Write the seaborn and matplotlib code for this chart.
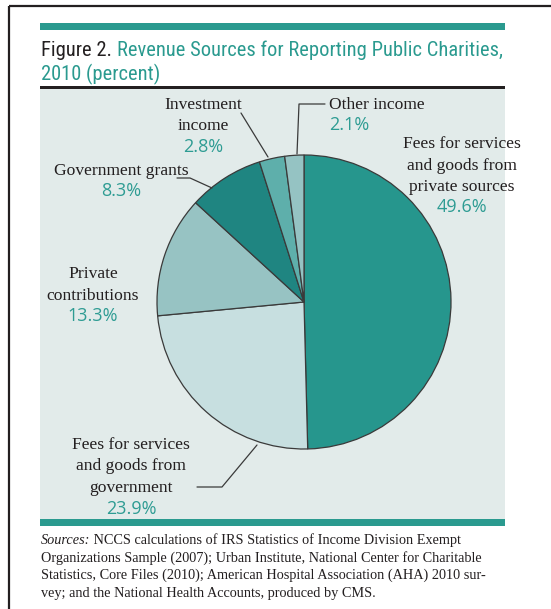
import matplotlib
matplotlib.use("Agg")
import matplotlib.pyplot as plt
from matplotlib import font_manager
import seaborn as sns

# Revenue sources for reporting public charities, 2010 (percent)
categories = [
    "Fees for services\nand goods from\nprivate sources",
    "Fees for services\nand goods from\ngovernment",
    "Private\ncontributions",
    "Government grants",
    "Investment\nincome",
    "Other income",
]
shares = [49.6, 23.9, 13.3, 8.3, 2.8, 2.1]

sns.set_theme(style="white")

names = {f.name for f in font_manager.fontManager.ttflist}
def pick(*fams):
    for f in fams:
        if f in names:
            return f
    return "DejaVu Sans"

TITLE_FONT = pick("Liberation Sans Narrow", "Roboto Condensed", "Liberation Sans")
SERIF_FONT = pick("Liberation Serif", "DejaVu Serif")
PCT_FONT = pick("Open Sans", "Noto Sans", "DejaVu Sans")

TEAL = "#2A9A8F"
PCT_TEAL = "#2E9C93"
INK = "#231F20"
PANEL = "#E2EBEA"
slice_colors = ["#26968D", "#C7DFE0", "#97C3C3", "#1F8581", "#5EAFAB", "#95C3C3"]

W, H = 551, 609
fig = plt.figure(figsize=(W / 100, H / 100), dpi=100)
fig.patch.set_facecolor("white")
ax = fig.add_axes([0, 0, 1, 1])

def Y(py):
    return H - py

# outer frame (top and left edges)
ax.plot([9, W], [Y(6), Y(6)], color=INK, lw=1.6, solid_capstyle="butt")
ax.plot([9, 9], [Y(6), Y(H)], color=INK, lw=1.6, solid_capstyle="butt")

# rules and panel
ax.add_patch(plt.Rectangle((40, Y(30)), 465, 7, color=TEAL, lw=0))
ax.add_patch(plt.Rectangle((40, Y(519)), 465, 431, color=PANEL, lw=0))
ax.add_patch(plt.Rectangle((40, Y(89)), 465, 3, color=INK, lw=0))
ax.add_patch(plt.Rectangle((40, Y(526)), 465, 7, color=TEAL, lw=0))

# title
TSIZE = 14.8
t1 = ax.text(41, Y(56), "Figure 2. ", color=INK, fontsize=TSIZE,
             family=TITLE_FONT, ha="left", va="baseline")
ax.annotate("Revenue Sources for Reporting Public Charities,", xy=(1, 0),
            xycoords=t1, color=TEAL, fontsize=TSIZE, family=TITLE_FONT,
            ha="left", va="bottom")
ax.text(41, Y(80), "2010 (percent)", color=TEAL, fontsize=TSIZE,
        family=TITLE_FONT, ha="left", va="baseline")

# pie
ax.pie(shares, colors=slice_colors, startangle=90, counterclock=False,
       center=(304, Y(302)), radius=147, frame=True,
       wedgeprops=dict(edgecolor="#3A3A3A", linewidth=0.9))

# category labels with their percentages
LSIZE = 12.6
PSIZE = 13
label_spots = [
    (462, 148),   # fees private
    (131, 449),   # fees government
    (93, 278),    # private contributions
    (121, 175),   # government grants
    (203, 109),   # investment income
    (None, None), # other income (left aligned below)
]
LINE = 21.5
for cat, val, (cx, cy) in zip(categories, shares, label_spots):
    if cx is None:
        continue
    lines = cat.split("\n")
    for i, ln in enumerate(lines):
        ax.text(cx, Y(cy + i * LINE), ln, fontsize=LSIZE, family=SERIF_FONT,
                color=INK, ha="center", va="baseline")
    ax.text(cx, Y(cy + len(lines) * LINE), f"{val}%", fontsize=PSIZE,
            family=PCT_FONT, color=PCT_TEAL, ha="center", va="baseline")

ax.text(329, Y(109), categories[5], fontsize=LSIZE, family=SERIF_FONT,
        color=INK, ha="left", va="baseline")
ax.text(329, Y(130), f"{shares[5]}%", fontsize=PSIZE, family=PCT_FONT,
        color=PCT_TEAL, ha="left", va="baseline")

# leader lines
leaders = [
    [(325, 104), (299, 104), (297, 154)],
    [(241, 113), (268, 157)],
    [(177, 178), (190, 178), (212, 188)],
    [(197, 487), (222, 487), (257, 445)],
]
for pts in leaders:
    xs = [p[0] for p in pts]
    ys = [Y(p[1]) for p in pts]
    ax.plot(xs, ys, color="#3A3A3A", lw=0.9)

# sources note
s0 = ax.text(41, Y(544), "Sources:", fontsize=10.3, family=SERIF_FONT,
             style="italic", color=INK, ha="left", va="baseline")
ax.annotate(" NCCS calculations of IRS Statistics of Income Division Exempt",
            xy=(1, 0), xycoords=s0, fontsize=10.3, family=SERIF_FONT,
            color=INK, ha="left", va="bottom")
notes = [
    "Organizations Sample (2007); Urban Institute, National Center for Charitable",
    "Statistics, Core Files (2010); American Hospital Association (AHA) 2010 sur-",
    "vey; and the National Health Accounts, produced by CMS.",
]
for i, ln in enumerate(notes):
    ax.text(41, Y(561.5 + i * 17.5), ln, fontsize=10.3, family=SERIF_FONT,
            color=INK, ha="left", va="baseline")

ax.set_xlim(0, W)
ax.set_ylim(0, H)
ax.set_aspect("equal")
ax.axis("off")

fig.savefig("out.png", dpi=100, facecolor="white")
